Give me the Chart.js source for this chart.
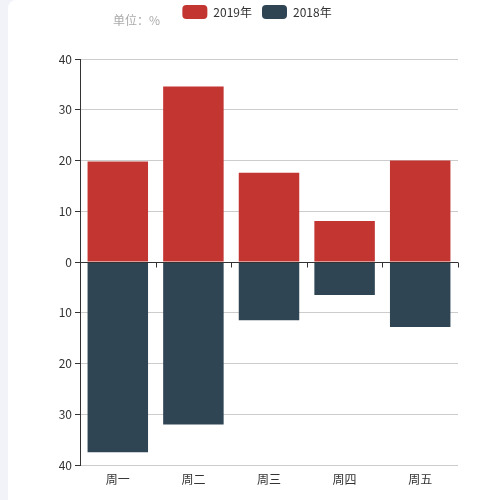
<!DOCTYPE html>
<html>
<head>
<meta charset="utf-8">
<script src="https://cdn.jsdelivr.net/npm/chart.js@4"></script>
<style>
  html, body { margin: 0; padding: 0; background: #f2f3f8; }
  .card {
    position: absolute; left: 8px; top: 0; width: 492px; height: 500px;
    background: #fff; border-radius: 8px 0 0 0;
  }
  .unit {
    position: absolute; left: 105px; top: 11px;
    font: 12px "Noto Sans CJK SC", sans-serif; color: #aaa;
  }
  canvas { display: block; }
</style>
</head>
<body>
<div class="card">
  <canvas id="chart" width="492" height="500"></canvas>
  <div class="unit">单位：%</div>
</div>
<script>
const days = ['周一', '周二', '周三', '周四', '周五']
const values2019 = [19.8, 34.6, 17.6, 8.1, 20.0]
const values2018 = [37.5, 32.0, 11.5, 6.5, 12.8]
const yTicks = [-40, -30, -20, -10, 0, 10, 20, 30, 40]

const font = { family: '"Noto Sans CJK SC", sans-serif', size: 12 }

// draws the axis line at zero with boundary ticks, like the echarts original
const zeroAxis = {
  id: 'zeroAxis',
  afterDatasetsDraw(chart) {
    const { ctx, chartArea, scales } = chart
    const y0 = Math.round(scales.y.getPixelForValue(0)) + 0.5
    const x = scales.x
    const step = x.getPixelForValue(1) - x.getPixelForValue(0)
    ctx.save()
    ctx.strokeStyle = '#333'
    ctx.lineWidth = 1
    ctx.beginPath()
    ctx.moveTo(chartArea.left, y0)
    ctx.lineTo(chartArea.right, y0)
    for (let i = 0; i <= days.length; i++) {
      const px = Math.round(x.getPixelForValue(i) - step / 2) + 0.5
      ctx.moveTo(px, y0)
      ctx.lineTo(px, y0 + 5)
    }
    ctx.stroke()
    ctx.restore()
  }
}

// more room under the legend, and nudge it right to where the original sits
const legendSpacing = {
  id: 'legendSpacing',
  beforeInit(chart) {
    const fit = chart.legend.fit
    chart.legend.fit = function () {
      fit.bind(chart.legend)()
      this.height += 30
    }
  },
  afterLayout(chart) {
    chart.legend.left += 24
    chart.legend.right += 24
  }
}

new Chart(document.getElementById('chart'), {
  type: 'bar',
  data: {
    labels: days,
    datasets: [
      {
        label: '2019年',
        data: values2019,
        backgroundColor: '#c23531',
        barPercentage: 0.8,
        categoryPercentage: 1
      },
      {
        label: '2018年',
        data: values2018.map(v => -v),
        backgroundColor: '#2f4554',
        barPercentage: 0.8,
        categoryPercentage: 1
      }
    ]
  },
  options: {
    responsive: false,
    animation: false,
    layout: { padding: { left: 0, right: 42, top: -5, bottom: 0 } },
    plugins: {
      tooltip: { enabled: false },
      legend: {
        position: 'top',
        labels: {
          font,
          color: '#333',
          boxWidth: 25,
          boxHeight: 14,
          useBorderRadius: true,
          borderRadius: 4,
          padding: 10
        }
      }
    },
    scales: {
      x: {
        stacked: true,
        grid: { display: false, drawTicks: false },
        border: { display: false },
        ticks: { font, color: '#333', padding: 7 },
        afterFit(scale) { scale.height = 35 }
      },
      y: {
        stacked: true,
        min: -40,
        max: 40,
        afterBuildTicks(scale) { scale.ticks = yTicks.map(v => ({ value: v })) },
        grid: { color: '#ccc', tickColor: '#333', tickLength: 5 },
        border: { display: true, color: '#333' },
        ticks: {
          font,
          color: '#333',
          padding: 3,
          callback: v => Math.abs(v)
        },
        afterFit(scale) { scale.width = 72 }
      }
    }
  },
  plugins: [zeroAxis, legendSpacing]
})
</script>
</body>
</html>
